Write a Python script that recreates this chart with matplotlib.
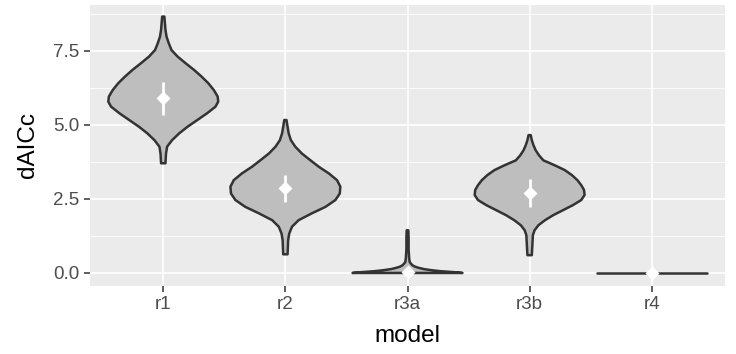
import numpy as np
import matplotlib
matplotlib.use("Agg")
import matplotlib.pyplot as plt
from matplotlib.ticker import MultipleLocator

# ---- data ----
models = ["r1", "r2", "r3a", "r3b", "r4"]

# violin profiles: y values and relative half-widths (1 = widest)
r1_y = [3.70, 4.03, 4.26, 4.48, 4.71, 4.93, 5.16, 5.39, 5.61, 5.78, 5.95, 6.17,
        6.40, 6.62, 6.85, 7.07, 7.30, 7.52, 7.75, 7.97, 8.20, 8.43, 8.65]
r1_w = [0.04, 0.05, 0.07, 0.16, 0.29, 0.44, 0.62, 0.80, 0.95, 1.00, 0.99, 0.92,
        0.82, 0.70, 0.56, 0.41, 0.26, 0.15, 0.10, 0.06, 0.04, 0.03, 0.02]

r2_y = [0.63, 1.10, 1.33, 1.56, 1.78, 2.01, 2.23, 2.46, 2.68, 2.91, 3.13, 3.36,
        3.58, 3.81, 4.03, 4.26, 4.48, 4.71, 4.93, 5.16]
r2_w = [0.04, 0.05, 0.07, 0.12, 0.24, 0.48, 0.73, 0.91, 0.99, 1.00, 0.94, 0.79,
        0.61, 0.45, 0.30, 0.18, 0.10, 0.06, 0.04, 0.02]

r3a_y = [0.00, 0.02, 0.04, 0.06, 0.09, 0.13, 0.17, 0.21, 0.26, 0.32, 0.37, 0.50,
         0.80, 1.20, 1.44]
r3a_w = [1.00, 0.90, 0.75, 0.60, 0.45, 0.30, 0.21, 0.14, 0.09, 0.06, 0.04, 0.03,
         0.02, 0.02, 0.015]

r3b_y = [0.60, 0.94, 1.28, 1.44, 1.61, 1.78, 1.95, 2.12, 2.29, 2.46, 2.63, 2.80,
         2.96, 3.13, 3.30, 3.47, 3.63, 3.80, 3.97, 4.14, 4.31, 4.48, 4.65]
r3b_w = [0.04, 0.05, 0.06, 0.09, 0.16, 0.28, 0.43, 0.61, 0.79, 0.94, 1.00, 0.99,
         0.94, 0.87, 0.77, 0.64, 0.46, 0.25, 0.17, 0.11, 0.07, 0.04, 0.02]

r4_y = [0.0, 0.0]
r4_w = [1.0, 1.0]

profiles_y = [r1_y, r2_y, r3a_y, r3b_y, r4_y]
profiles_w = [r1_w, r2_w, r3a_w, r3b_w, r4_w]

means = [5.89, 2.85, 0.03, 2.70, 0.00]
errs = [0.55, 0.45, 0.03, 0.48, 0.25]

# ---- figure ----
plt.rcParams["font.family"] = ["Liberation Sans", "DejaVu Sans"]
fig = plt.figure(figsize=(7.36, 3.54), dpi=100)
ax = fig.add_axes([90 / 736, 68 / 354, 635 / 736, 281 / 354])
ax.set_facecolor("#EBEBEB")

half = 0.45
for i, (ys, ws) in enumerate(zip(profiles_y, profiles_w)):
    x0 = i + 1
    ys = np.asarray(ys, float)
    ws = np.asarray(ws, float) * half
    px = np.concatenate([x0 - ws, (x0 + ws)[::-1]])
    py = np.concatenate([ys, ys[::-1]])
    ax.fill(px, py, facecolor="#BEBEBE", edgecolor="#333333", lw=1.8,
            joinstyle="round", capstyle="round", zorder=3)

xs = np.arange(1, len(models) + 1)
ax.vlines(xs, np.array(means) - np.array(errs), np.array(means) + np.array(errs),
          color="white", lw=2.0, zorder=4)
ax.plot(xs, means, "D", color="white", ms=6.8, mec="none", zorder=5)

ax.set_xlim(0.4, 5.6)
ax.set_ylim(-0.44, 9.04)
ax.set_xticks(xs)
ax.set_xticklabels(models)
ax.yaxis.set_major_locator(MultipleLocator(2.5))
ax.yaxis.set_minor_locator(MultipleLocator(1.25))
ax.set_yticks([0, 2.5, 5.0, 7.5])
ax.set_yticklabels(["0.0", "2.5", "5.0", "7.5"])

ax.grid(True, which="major", color="white", lw=1.2, zorder=0)
ax.grid(True, which="minor", axis="y", color="white", lw=0.6, zorder=0)
ax.set_axisbelow(True)
for s in ax.spines.values():
    s.set_visible(False)

ax.tick_params(axis="both", which="major", length=4, width=1.1, color="#333333",
               labelcolor="#4D4D4D", labelsize=13.5, pad=3.5)
ax.tick_params(axis="y", which="minor", length=0)

ax.set_xlabel("model", fontsize=17.5, color="black", labelpad=8)
ax.set_ylabel("dAICc", fontsize=17.5, color="black", labelpad=10)

fig.savefig("out.png", dpi=100, facecolor="white")
